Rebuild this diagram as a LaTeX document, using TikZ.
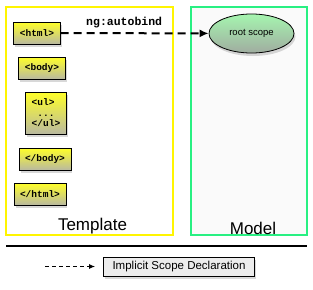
\documentclass[tikz,border=0pt]{standalone}
\usepackage{fontspec}
\setmainfont{Liberation Sans}
\newfontfamily\codefont{Liberation Mono}
\usetikzlibrary{shapes.geometric,arrows.meta,shadows}
\definecolor{tagtop}{RGB}{255,255,40}
\definecolor{tagbot}{RGB}{185,185,160}
\definecolor{scopetop}{RGB}{165,245,175}
\definecolor{scopebot}{RGB}{160,172,160}
\definecolor{tmplframe}{RGB}{255,245,0}
\definecolor{modelframe}{RGB}{40,240,130}
\definecolor{legfill}{RGB}{236,236,236}

\begin{document}
\begin{tikzpicture}[x=1pt,y=-1pt,
    tag/.style={draw=black,line width=0.8pt,top color=tagtop,bottom color=tagbot,
      font=\codefont\bfseries\fontsize{9.5}{10.5}\selectfont,
      inner xsep=6pt,minimum height=22pt,
      drop shadow={opacity=0.3,shadow xshift=1.5pt,shadow yshift=-2.5pt}},
    pane/.style={line width=1.3pt,minimum height=228pt,inner sep=0pt},
    panelabel/.style={font=\fontsize{17}{19}\selectfont,anchor=south,inner sep=1pt},
    bind/.style={-{Latex[length=9pt,width=8pt]},line width=2pt,dash pattern=on 8pt off 5pt},
    legarrow/.style={-{Latex[length=6pt,width=5pt]},line width=1pt,dash pattern=on 4pt off 3pt}]
  \useasboundingbox (0,0) rectangle (313,289);
  % panes
  \node[pane,draw=tmplframe,fill=white,minimum width=167pt] (tmpl) at (89.5,121) {};
  \node[pane,draw=modelframe,fill=gray!4,minimum width=116pt] (model) at (249,121) {};
  \node[panelabel] (tmpllabel) at ([xshift=3pt]tmpl.south) {Template};
  \node[panelabel] (modellabel) at ([xshift=4pt]model.south) {Model};
  % template tags
  \node[tag] (html) at (37,33) {<html>};
  \node[tag] (body) at (42,68) {<body>};
  \node[tag,align=left,minimum height=42pt] (ul) at (46,113) {<ul>\\\hphantom{<}...\\</ul>};
  \node[tag] (bodyend) at (45,159) {</body>};
  \node[tag] (htmlend) at (40,194) {</html>};
  % model
  \node[ellipse,draw=black,line width=0.8pt,top color=scopetop,bottom color=scopebot,
    minimum width=85pt,minimum height=39pt,font=\fontsize{9.5}{11}\selectfont,
    drop shadow={opacity=0.3,shadow xshift=1.5pt,shadow yshift=-3pt}]
    (scope) at (251.5,33.5) {root scope};
  \draw[bind] (html) -- node[pos=0.43,above=1pt,font=\codefont\bfseries\fontsize{11.5}{13}\selectfont] {ng:autobind} (scope);
  % legend
  \coordinate (rulel) at (6,246);
  \coordinate (ruler) at (307,246);
  \draw[line width=2pt] (rulel) -- (ruler);
  \node[draw=black,line width=0.8pt,fill=legfill,inner xsep=9pt,minimum height=19pt,
    font=\fontsize{11.5}{13}\selectfont,
    drop shadow={opacity=0.3,shadow xshift=1.5pt,shadow yshift=-3pt}]
    (legbox) at (179,266.5) {Implicit Scope Declaration};
  \coordinate (legstart) at (45,266.5);
  \draw[legarrow,shorten >=8pt] (legstart) -- (legbox.west);
\end{tikzpicture}
\end{document}
